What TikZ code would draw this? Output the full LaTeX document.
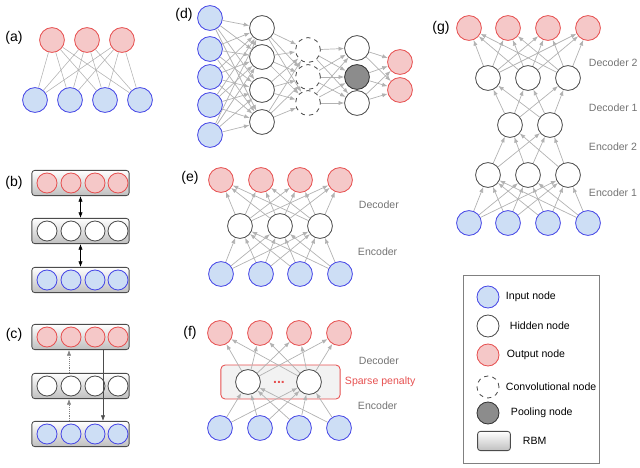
\documentclass[tikz,border=0pt]{standalone}
\usepackage{fontspec}
\setmainfont{Liberation Sans}
\usetikzlibrary{arrows.meta}
\definecolor{inblue}{RGB}{205,222,245}
\definecolor{inedge}{RGB}{70,70,230}
\definecolor{outred}{RGB}{245,200,200}
\definecolor{outedge}{RGB}{230,80,80}
\begin{document}
\begin{tikzpicture}[x=0.025cm,y=-0.025cm,
  nd/.style={circle,minimum size=0.62cm,inner sep=0pt,line width=0.6pt},
  inp/.style={nd,draw=inedge,fill=inblue},
  hid/.style={nd,draw=black!70,fill=white},
  outn/.style={nd,draw=outedge,fill=outred},
  conv/.style={nd,draw=black!70,dashed,fill=white},
  pool/.style={nd,draw=black!80,fill=black!45},
  lnk/.style={gray!60,line width=0.5pt,-{Latex[length=4pt]}},
  rbm/.style={draw=black!70,rounded corners=2pt,top color=white,bottom color=black!25,line width=0.6pt},
  lab/.style={font=\fontsize{10}{10}\selectfont},
  tag/.style={font=\fontsize{7.5}{8}\selectfont,text=black!55,anchor=west},
  leg/.style={font=\fontsize{7.5}{8}\selectfont,anchor=west}]
\useasboundingbox (0,0) rectangle (640,468);
% (a)
\node[lab] at (14,38) {(a)};
\foreach \x [count=\i] in {35,70,105,140} \node[inp] (a-i\i) at (\x,100) {};
\foreach \x [count=\i] in {52,87,122} \node[outn] (a-o\i) at (\x,40) {};
\foreach \i in {1,...,4} \foreach \j in {1,2,3} \draw[gray!60] (a-i\i) -- (a-o\j);
% (b)
\node[lab] at (14,183) {(b)};
\foreach \y/\n/\s in {183/bt/outn,231/bm/hid,280/bb/inp}{
  \node[rbm,minimum width=2.43cm,minimum height=0.63cm] (\n) at (80.5,\y) {};
  \foreach \x [count=\i] in {47,71,95,118} \node[\s,minimum size=0.5cm] (\n\i) at (\x,\y) {};
}
\draw[{Latex[length=4pt]}-{Latex[length=4pt]}] (bt.south) -- (bm.north);
\draw[{Latex[length=4pt]}-{Latex[length=4pt]}] (bm.south) -- (bb.north);
% (c)
\node[lab] at (14,335) {(c)};
\foreach \y/\n/\s in {337/ct/outn,386/cm/hid,434/cb/inp}{
  \node[rbm,minimum width=2.43cm,minimum height=0.63cm] (\n) at (80.5,\y) {};
  \foreach \x [count=\i] in {47,71,95,118} \node[\s,minimum size=0.5cm] (\n\i) at (\x,\y) {};
}
\coordinate (cx) at (103,0);
\coordinate (dx) at (69,0);
\draw[densely dotted,gray,-{Latex[length=4pt]}] (cb.north -| dx) -- (cm.south -| dx);
\draw[densely dotted,gray,-{Latex[length=4pt]}] (cm.north -| dx) -- (ct.south -| dx);
\draw[black!70,-{Latex[length=4pt]}] (ct.south -| cx) -- (cb.north -| cx);
% (d)
\node[lab] at (184,15) {(d)};
\foreach \y [count=\i] in {18,49,77,105,135} \node[inp] (d-a\i) at (210,\y) {};
\foreach \y [count=\i] in {28,57,90,122} \node[hid] (d-b\i) at (262,\y) {};
\foreach \y [count=\i] in {50,77,103} \node[conv] (d-c\i) at (308,\y) {};
\node[hid] (d-d1) at (357,48) {};
\node[pool] (d-d2) at (357,77) {};
\node[hid] (d-d3) at (357,103) {};
\foreach \y [count=\i] in {62,90} \node[outn] (d-e\i) at (400,\y) {};
\foreach \i in {1,...,5} \foreach \j in {1,...,4} \draw[lnk] (d-a\i) -- (d-b\j);
\foreach \i in {1,...,4} \foreach \j in {1,...,3} \draw[lnk] (d-b\i) -- (d-c\j);
\foreach \i in {1,...,3} \foreach \j in {1,...,3} \draw[lnk] (d-c\i) -- (d-d\j);
\foreach \i in {1,...,3} \foreach \j in {1,2} \draw[lnk] (d-d\i) -- (d-e\j);
% (e)
\node[lab] at (190,178) {(e)};
\foreach \x [count=\i] in {221,261,300,340} {\node[inp] (e-i\i) at (\x,274) {}; \node[outn] (e-o\i) at (\x,180) {};}
\foreach \x [count=\i] in {240,280,320} \node[hid] (e-h\i) at (\x,226) {};
\foreach \i in {1,...,4} \foreach \j in {1,2,3} {\draw[lnk] (e-i\i) -- (e-h\j); \draw[lnk] (e-h\j) -- (e-o\i);}
\node[tag] at (354,205) {Decoder};
\node[tag] at (353,252) {Encoder};
% (f)
\node[lab] at (190,333) {(f)};
\node[draw=outedge,fill=black!5,rounded corners=3pt,minimum width=2.98cm,minimum height=0.85cm,line width=0.6pt] (f-box) at (280.5,382) {};
\foreach \x [count=\i] in {220,260,299,339} {\node[inp] (f-i\i) at (\x,428) {}; \node[outn] (f-o\i) at (\x,333) {};}
\foreach \x [count=\i] in {248,309} \node[hid] (f-h\i) at (\x,382) {};
\node[text=outedge] (f-dots) at (279,382) {\textbf{...}};
\foreach \i in {1,...,4} \foreach \j in {1,2} {\draw[lnk] (f-i\i) -- (f-h\j); \draw[lnk] (f-h\j) -- (f-o\i);}
\node[tag,text=outedge] at (340,382) {Sparse penalty};
\node[tag] at (354,361) {Decoder};
\node[tag] at (353,406) {Encoder};
% (g)
\node[lab] at (441,28) {(g)};
\foreach \x [count=\i] in {469,508,548,588} {\node[inp] (g-i\i) at (\x,223) {}; \node[outn] (g-o\i) at (\x,28) {};}
\foreach \x [count=\i] in {488,528,568} {\node[hid] (g-a\i) at (\x,175) {}; \node[hid] (g-c\i) at (\x,78) {};}
\foreach \x [count=\i] in {510,550} \node[hid] (g-b\i) at (\x,125) {};
\foreach \i in {1,...,4} \foreach \j in {1,2,3} {\draw[lnk] (g-i\i) -- (g-a\j); \draw[lnk] (g-c\j) -- (g-o\i);}
\foreach \i in {1,2,3} \foreach \j in {1,2} {\draw[lnk] (g-a\i) -- (g-b\j); \draw[lnk] (g-b\j) -- (g-c\i);}
\node[tag] at (584,63) {Decoder 2};
\node[tag] at (584,108) {Decoder 1};
\node[tag] at (584,147) {Encoder 2};
\node[tag] at (584,193) {Encoder 1};
% legend
\node[draw=black!50,minimum width=3.4cm,minimum height=4.7cm,line width=0.5pt] (legbox) at (531,369) {};
\node[inp,minimum size=0.55cm] (l1) at (488,297) {};
\node[hid,minimum size=0.55cm] (l2) at (488,326) {};
\node[outn,minimum size=0.55cm] (l3) at (488,355) {};
\node[conv,minimum size=0.55cm] (l4) at (488,387) {};
\node[pool,minimum size=0.55cm] (l5) at (488,413) {};
\node[rbm,minimum width=0.82cm,minimum height=0.48cm] (l6) at (494,441) {};
\node[leg] at (501,297) {Input node};
\node[leg] at (505,326) {Hidden node};
\node[leg] at (502,355) {Output node};
\node[leg] at (501,387) {Convolutional node};
\node[leg] at (506,413) {Pooling node};
\node[leg] at (518,441) {RBM};
\end{tikzpicture}
\end{document}
